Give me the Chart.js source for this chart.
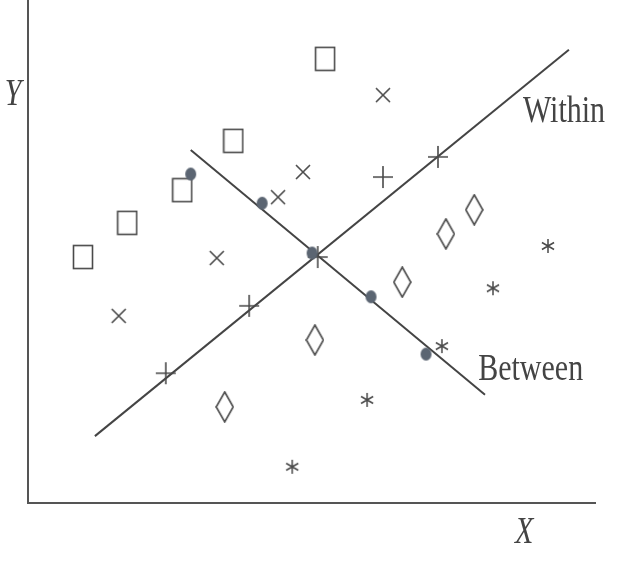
<!DOCTYPE html>
<html>
<head>
<meta charset="utf-8">
<script src="https://cdn.jsdelivr.net/npm/chart.js@4/dist/chart.umd.min.js"></script>
<style>
  body { margin: 0; background: #fff; }
  #wrap { width: 617px; height: 562px; }
</style>
</head>
<body>
<div id="wrap"><canvas id="myChart" width="617" height="562"></canvas></div>
<script>
// groups of observations (x, y on a 0-100 scale)
const squares = [[9.7, 48.9], [17.5, 55.7], [27.2, 62.2], [36.2, 72.0], [52.4, 88.3]];
const crosses = [[16.0, 37.2], [33.3, 48.7], [44.1, 60.8], [48.5, 65.8], [62.6, 81.1]];
const pluses = [[24.3, 25.8], [39.0, 39.2], [51.1, 48.9], [62.6, 64.8], [72.3, 68.8]];
const diamonds = [[34.7, 19.1], [50.6, 32.4], [66.0, 43.9], [73.7, 53.5], [78.7, 58.3]];
const stars = [[46.6, 7.2], [59.8, 20.5], [73.0, 31.2], [82.0, 42.7], [91.7, 51.1]];
// group means
const means = [[28.7, 65.4], [41.3, 59.6], [50.1, 49.7], [60.5, 41.0], [70.2, 29.6]];
// regression lines
const withinLine = [[11.8, 13.3], [95.4, 90.1]];
const betweenLine = [[28.7, 70.2], [80.6, 21.5]];
// text labels
const labels = [
  { text: 'Within', x: 87.3, y: 75.7, italic: false },
  { text: 'Between', x: 79.4, y: 24.5, italic: false },
  { text: 'Y', x: -4.1, y: 79.1, italic: true },
  { text: 'X', x: 85.9, y: -8.0, italic: true },
];

const ink = '#4a4a4a';

function marker(w, h, draw) {
  const c = document.createElement('canvas');
  c.width = w;
  c.height = h;
  const g = c.getContext('2d');
  g.strokeStyle = ink;
  g.fillStyle = '#5b6572';
  g.lineWidth = 1.6;
  draw(g);
  return c;
}

const squareMark = marker(22, 26, (g) => g.strokeRect(1.5, 1.5, 19, 23));
const crossMark = marker(18, 18, (g) => {
  g.beginPath();
  g.moveTo(2, 2); g.lineTo(16, 16);
  g.moveTo(16, 2); g.lineTo(2, 16);
  g.stroke();
});
const plusMark = marker(22, 24, (g) => {
  g.beginPath();
  g.moveTo(1, 12); g.lineTo(21, 12);
  g.moveTo(11, 1); g.lineTo(11, 23);
  g.stroke();
});
const diamondMark = marker(19, 32, (g) => {
  g.beginPath();
  g.moveTo(9.5, 1); g.lineTo(18, 16); g.lineTo(9.5, 31); g.lineTo(1, 16);
  g.closePath();
  g.stroke();
});
const starMark = marker(16, 16, (g) => {
  g.lineWidth = 1.5;
  g.beginPath();
  for (const a of [90, 30, 150]) {
    const r = a * Math.PI / 180;
    g.moveTo(8 - 7 * Math.cos(r), 8 - 7 * Math.sin(r));
    g.lineTo(8 + 7 * Math.cos(r), 8 + 7 * Math.sin(r));
  }
  g.stroke();
});
const meanMark = marker(13, 15, (g) => {
  g.beginPath();
  g.ellipse(6.5, 7.5, 5.5, 6.5, 0, 0, Math.PI * 2);
  g.fill();
});

const toXY = (arr) => arr.map(([x, y]) => ({ x, y }));

function markerSet(data, style) {
  return {
    data: toXY(data),
    pointStyle: style,
    pointRadius: 5,
    showLine: false,
  };
}

function lineSet(data) {
  return {
    data: toXY(data),
    showLine: true,
    borderColor: '#444',
    borderWidth: 2,
    pointRadius: 0,
  };
}

const textPlugin = {
  id: 'textLabels',
  afterDraw(chart) {
    const ctx = chart.ctx;
    const sx = chart.scales.x;
    const sy = chart.scales.y;
    ctx.save();
    ctx.fillStyle = '#444';
    ctx.textBaseline = 'alphabetic';
    ctx.textAlign = 'left';
    labels.forEach((l) => {
      ctx.save();
      ctx.translate(sx.getPixelForValue(l.x), sy.getPixelForValue(l.y));
      ctx.scale(1, 1.25);
      ctx.font = (l.italic ? 'italic ' : '') + '30px "Liberation Serif", serif';
      ctx.fillText(l.text, 0, 0);
      ctx.restore();
    });
    ctx.restore();
  },
};

new Chart(document.getElementById('myChart'), {
  type: 'scatter',
  data: {
    datasets: [
      markerSet(means, meanMark),
      markerSet(squares, squareMark),
      markerSet(crosses, crossMark),
      markerSet(pluses, plusMark),
      markerSet(diamonds, diamondMark),
      markerSet(stars, starMark),
      lineSet(withinLine),
      lineSet(betweenLine),
    ],
  },
  options: {
    responsive: false,
    animation: false,
    layout: { autoPadding: false, padding: { left: 28, right: 22, top: 0, bottom: 59 } },
    plugins: { legend: { display: false }, tooltip: { enabled: false } },
    scales: {
      x: {
        min: 0, max: 100,
        grid: { display: false },
        ticks: { display: false },
        border: { display: true, color: '#555', width: 2 },
        afterFit: (scale) => { scale.height = 0; },
      },
      y: {
        min: 0, max: 100,
        grid: { display: false },
        ticks: { display: false },
        border: { display: true, color: '#555', width: 2 },
        afterFit: (scale) => { scale.width = 0; },
      },
    },
  },
  plugins: [textPlugin],
});
</script>
</body>
</html>
